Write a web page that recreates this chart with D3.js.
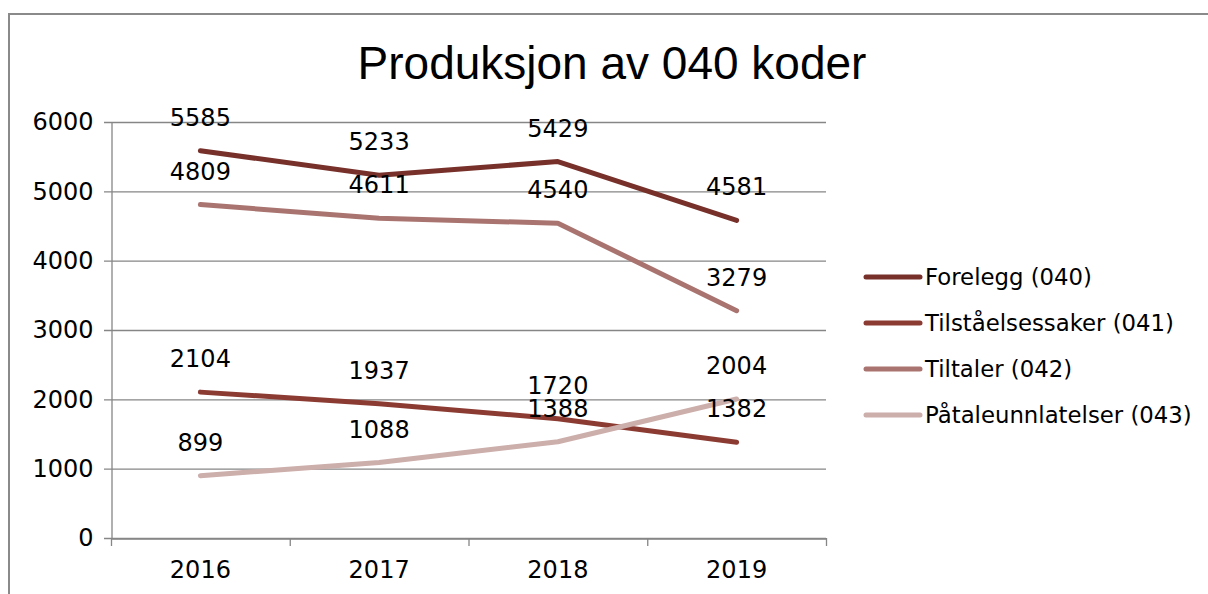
<!DOCTYPE html>
<html>
<head>
<meta charset="utf-8">
<script src="https://cdn.jsdelivr.net/npm/d3@7"></script>
<style>
  html, body { margin: 0; padding: 0; background: #fff; }
  svg { display: block; }
  text { font-family: "DejaVu Sans", "Liberation Sans", sans-serif; fill: #000; }
</style>
</head>
<body>
<svg id="chart" width="1208" height="594"></svg>
<script>
const title = "Produksjon av 040 koder";
const years = ["2016", "2017", "2018", "2019"];
const yTicks = [0, 1000, 2000, 3000, 4000, 5000, 6000];
const seriesNames = ["Forelegg (040)", "Tilståelsessaker (041)", "Tiltaler (042)", "Påtaleunnlatelser (043)"];
const forelegg = [5585, 5233, 5429, 4581];
const tilstaelse = [2104, 1937, 1720, 1382];
const tiltaler = [4809, 4611, 4540, 3279];
const pataleunnlatelser = [899, 1088, 1388, 2004];
const colors = ["#77302a", "#8c3b32", "#a9746f", "#ccaeab"];

const series = [forelegg, tilstaelse, tiltaler, pataleunnlatelser].map((v, i) => ({
  name: seriesNames[i], values: v, color: colors[i]
}));

const svg = d3.select("#chart");
const plot = { left: 111, right: 826, top: 122, bottom: 538 };

// outer border
svg.append("rect")
  .attr("x", 9).attr("y", 14).attr("width", 1230).attr("height", 620)
  .attr("fill", "none").attr("stroke", "#8a8a8a").attr("stroke-width", 2);

svg.append("text")
  .attr("x", 612).attr("y", 79)
  .attr("text-anchor", "middle")
  .style("font-family", "'Liberation Sans', Arial, sans-serif")
  .style("font-size", "46px")
  .text(title);

const x = d3.scaleBand().domain(years).range([plot.left, plot.right]);
const y = d3.scaleLinear().domain([0, 6000]).range([plot.bottom, plot.top]);

// gridlines
svg.append("g").selectAll("line").data(yTicks).join("line")
  .attr("x1", plot.left - 7).attr("x2", plot.right)
  .attr("y1", d => y(d) + 0.5).attr("y2", d => y(d) + 0.5)
  .attr("stroke", "#868686").attr("stroke-width", 1.3);

// y axis
const yAxis = svg.append("g").attr("transform", `translate(${plot.left + 0.5},0)`)
  .call(d3.axisLeft(y).tickValues(yTicks).tickSize(0).tickPadding(18).tickFormat(d3.format("d")));
yAxis.select(".domain").attr("stroke", "#868686").attr("stroke-width", 1.3);
yAxis.selectAll("text").style("font-size", "24px").style("font-family", "'DejaVu Sans', sans-serif");

// x axis
const xAxis = svg.append("g").attr("transform", `translate(0,${plot.bottom + 0.5})`)
  .call(d3.axisBottom(x).tickSize(0).tickPadding(22));
xAxis.select(".domain").attr("stroke", "#868686").attr("stroke-width", 1.3);
xAxis.selectAll("text").style("font-size", "24px").style("font-family", "'DejaVu Sans', sans-serif");
// x tick marks at category boundaries
const bounds = years.map(d => x(d)).concat([plot.right]);
svg.append("g").selectAll("line").data(bounds).join("line")
  .attr("x1", d => d + 0.5).attr("x2", d => d + 0.5)
  .attr("y1", plot.bottom).attr("y2", plot.bottom + 8)
  .attr("stroke", "#868686").attr("stroke-width", 1.3);

const cx = d => x(d) + x.bandwidth() / 2;
const line = d3.line().x((d, i) => cx(years[i])).y(d => y(d));

svg.append("g").selectAll("path").data(series).join("path")
  .attr("d", d => line(d.values))
  .attr("fill", "none").attr("stroke", d => d.color)
  .attr("stroke-width", 5).attr("stroke-linecap", "round").attr("stroke-linejoin", "round");

// data labels
const lbl = svg.append("g");
series.forEach(s => {
  lbl.selectAll(null).data(s.values).join("text")
    .attr("x", (d, i) => cx(years[i]))
    .attr("y", d => y(d) - 25)
    .attr("text-anchor", "middle")
    .style("font-size", "24px")
    .text(d => d);
});

// legend
const leg = svg.append("g");
series.forEach((s, i) => {
  const ly = 277 + i * 46;
  leg.append("line").attr("x1", 866).attr("x2", 920).attr("y1", ly).attr("y2", ly)
    .attr("stroke", s.color).attr("stroke-width", 5).attr("stroke-linecap", "round");
  leg.append("text").attr("x", 925).attr("y", ly + 8)
    .style("font-size", "22.8px").text(s.name);
});
</script>
</body>
</html>
